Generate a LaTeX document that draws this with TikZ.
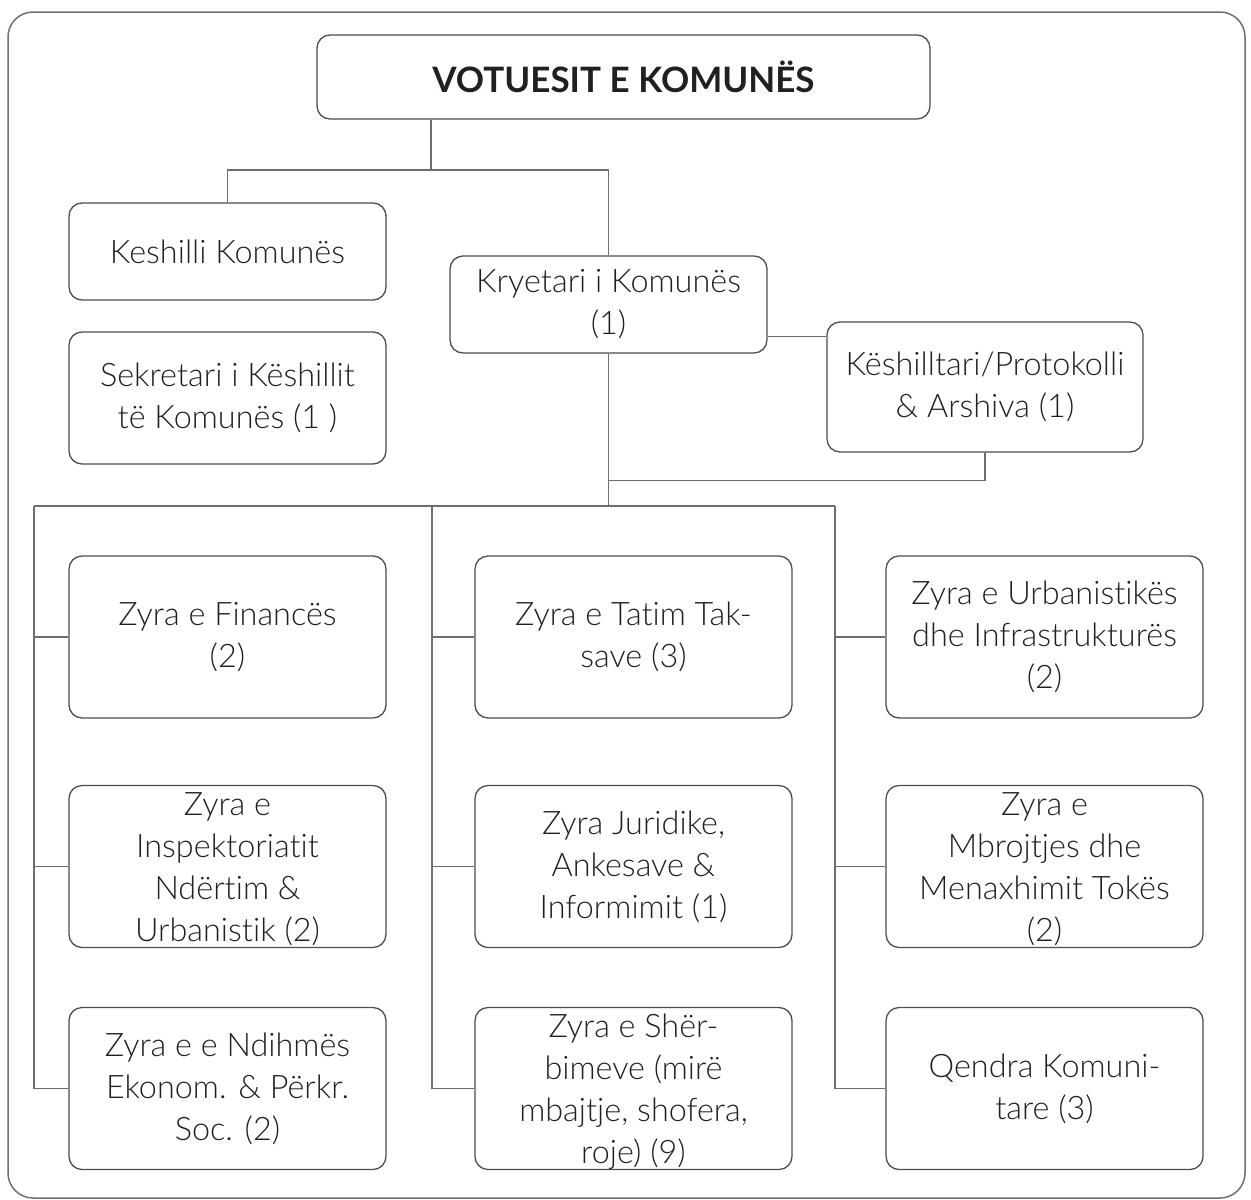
\documentclass[tikz,border=0pt]{standalone}
\usepackage{fontspec}
\IfFontExistsTF{Lato Light}
    {\setmainfont{Lato Light}[BoldFont={Lato Bold},Ligatures=NoCommon]}
    {\setmainfont{Lato}[Ligatures=NoCommon]}
\definecolor{ink}{HTML}{231F20}
\definecolor{linegrey}{HTML}{6D6E71}
\definecolor{boxgrey}{HTML}{4D4D4F}
\def\boxw{158.5pt}
\def\boxh{81pt}

\begin{document}
\begin{tikzpicture}[x=0.5pt,y=-0.5pt]
    \tikzstyle{unit}=[draw=boxgrey,line width=0.65pt,rounded corners=6.5pt,minimum width=\boxw,minimum height=\boxh,inner sep=0pt,align=center,text=ink,font=\fontsize{16.2}{21}\selectfont]
    \tikzstyle{top unit}=[unit,minimum width=306.5pt,minimum height=42pt,font=\bfseries\fontsize{17.5}{20}\selectfont]
    \tikzstyle{unit text}=[inner sep=0pt,align=center,text=ink,font=\fontsize{16.2}{21}\selectfont]
    \tikzstyle{link}=[draw=linegrey,line width=0.6pt]
    \tikzstyle{frame}=[draw=linegrey,line width=0.75pt,rounded corners=12.5pt]

    \useasboundingbox (0,0) rectangle (1251,1199);
    \draw[frame] (8,12) rectangle (1245,1198);

    % Draw the upper boxes
    \node[top unit] (V) at (623.5,77) {VOTUESIT E KOMUNËS};
    \node[unit, minimum height=48.5pt] (K) at (227.5,251.5) {Keshilli Komunës};
    \node[unit, minimum height=66pt] (S) at (227.5,398) {Sekretari i Këshillit\\të Komunës (1 )};
    \node[unit, minimum height=48.5pt] (P) at (608.5,304.5) {Kryetari i Komunës\\(1)};
    \node[unit, minimum width=158pt, minimum height=65pt] (A) at (985,387) {Këshilltari/Protokolli\\\& Arshiva (1)};

    % Draw the offices, column-row
    \foreach \name/\x/\y/\txt in {
        1-1/227.5/637/{Zyra e Financës\\(2)},
        1-3/227.5/1088.5/{Zyra e e Ndihmës\\Ekonom. \& Përkr.\\Soc. (2)},
        2-1/633.5/637/{Zyra e Tatim Tak-\\save (3)},
        2-2/633.5/866.5/{Zyra Juridike,\\Ankesave \&\\Informimit (1)},
        3-1/1044.5/637/{Zyra e Urbanistikës\\dhe Infrastrukturës\\(2)},
        3-3/1044.5/1088.5/{Qendra Komuni-\\tare (3)}}
        \node[unit] (Z-\name) at (\x,\y) {\txt};

    % these texts run over the bottom of their box
    \foreach \name/\x/\y/\txt in {
        1-2/227.5/866.5/{Zyra e\\Inspektoriatit\\Ndërtim \&\\Urbanistik (2)},
        3-2/1044.5/866.5/{Zyra e\\Mbrojtjes dhe\\Menaxhimit Tokës\\(2)},
        2-3/633.5/1088.5/{Zyra e Shër-\\bimeve (mirë\\mbajtje, shofera,\\roje) (9)}}
    {
        \node[unit] (Z-\name) at (\x,\y) {};
        \node[unit text, anchor=north] (T-\name) at ([yshift=-3.5pt]Z-\name.north) {\txt};
    }

    % Connect the top box with council and mayor
    \coordinate (split) at (431,170);
    \draw[link] (split |- V.south) -- (split);
    \draw[link] (K.north) -- (K.north |- split) -- (P.north |- split) -- (P.north);
    \draw[link] ([yshift=-16pt]P.east) coordinate (pa) -- (pa -| A.west);

    % The bus under the mayor
    \coordinate (bus-1) at (34,506);
    \coordinate (bus-2) at (432,506);
    \coordinate (bus-3) at (835,506);
    \draw[link] (bus-1) -- (bus-3);
    \draw[link] (P.south) -- (P.south |- bus-1);
    \draw[link] (A.south) -- ++(0,28) coordinate (hook) -- (hook -| P.south);

    % Connect every office with its column
    \foreach \c in {1,2,3}
        \foreach \r in {1,2,3}
            \draw[link] (bus-\c) |- (Z-\c-\r.west);
\end{tikzpicture}
\end{document}
